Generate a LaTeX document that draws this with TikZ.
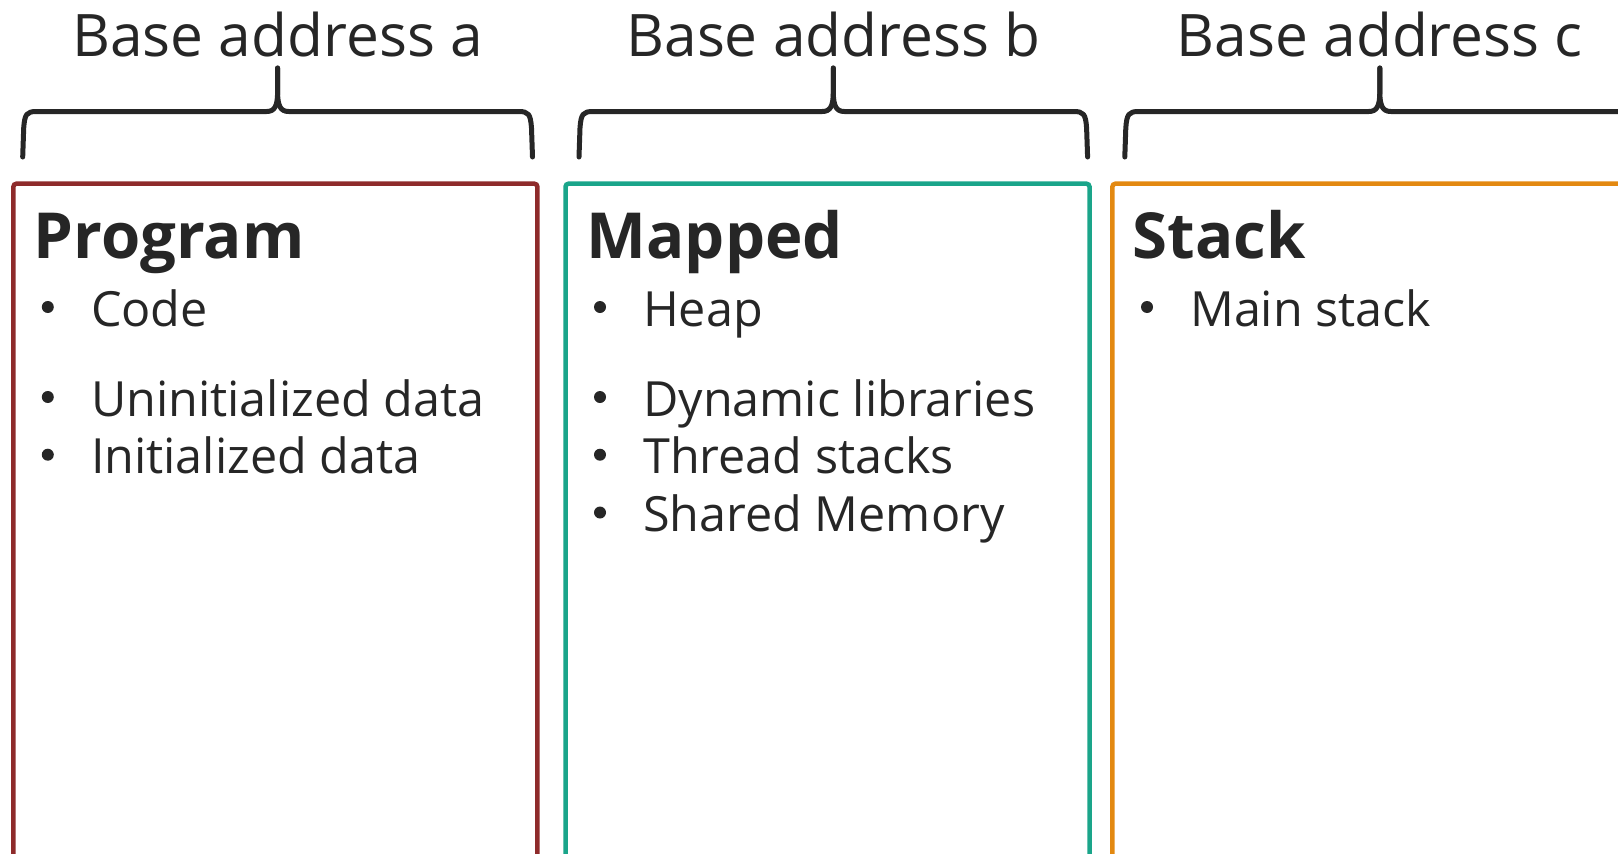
\documentclass[tikz,border=0pt]{standalone}
\usepackage{fontspec}
\setmainfont{Open Sans}
\definecolor{ink}{HTML}{262626}
\definecolor{progred}{HTML}{8E2B2B}
\definecolor{mapteal}{HTML}{1AA58A}
\definecolor{stackorange}{HTML}{E38911}

% curly brace over a region: #1 left x, #2 right x
\newcommand\RegionBrace[2]{%
  \pgfmathsetmacro\bmid{(#1+#2)/2}%
  \draw[bracepath] (\bmid,68) -- (\bmid,92)
    .. controls (\bmid,106) and (\bmid-3,111.5) .. (\bmid-11,111.5)
    -- (#1+14,111.5)
    .. controls (#1+4,111.5) and (#1+2,114) .. (#1+1,128) -- (#1,157);
  \draw[bracepath] (\bmid,68) -- (\bmid,92)
    .. controls (\bmid,106) and (\bmid+3,111.5) .. (\bmid+11,111.5)
    -- (#2-14,111.5)
    .. controls (#2-4,111.5) and (#2-2,114) .. (#2-1,128) -- (#2,157);
}
% bullet dot beside an item whose text starts at #1 on baseline #2
\newcommand\ItemDot[2]{\fill[ink] (#1-43,#2-19) circle (6pt);}

\begin{document}
\begin{tikzpicture}[x=1pt,y=-1pt,
  bracepath/.style={draw=ink, line width=5pt, line cap=round, line join=round},
  region/.style={draw, line width=4.5pt, rounded corners=3pt, fill=none,
    minimum width=524pt, minimum height=720pt, anchor=north west,
    inner sep=0pt, outer sep=0pt},
  addrlabel/.style={text=ink, font=\fontsize{58.6}{60}\selectfont, anchor=base, inner sep=0pt},
  regiontitle/.style={text=ink, font=\fontsize{63.5}{66}\selectfont\bfseries, anchor=base west, inner sep=0pt},
  itemtext/.style={text=ink, font=\fontsize{48.5}{52}\selectfont, anchor=base west, inner sep=0pt}]
\useasboundingbox (0,0) rectangle (1618,854);
\clip (0,0) rectangle (1618,854);

% address labels and braces
\node[addrlabel] (baseA) at (277.6,56.8) {Base address a};
\node[addrlabel] (baseB) at (833.3,56.8) {Base address b};
\node[addrlabel] (baseC) at (1379.8,56.8) {Base address c};
\RegionBrace{22.7}{532.5}
\RegionBrace{579}{1087.6}
\RegionBrace{1124.8}{1634.8}

% regions
\node[region, draw=progred] (prog) at (13.4,183.7) {};
\node[region, draw=mapteal] (mapped) at (565.5,183.7) {};
\node[region, draw=stackorange] (stack) at (1112.4,183.7) {};

% Program
\node[regiontitle] (progT) at (33.5,258) {Program};
\node[itemtext] (progA) at (90.8,326) {Code};
\node[itemtext] (progB) at (90.8,416) {Uninitialized data};
\node[itemtext] (progC) at (90.8,473.7) {Initialized data};
\ItemDot{90.8}{326}
\ItemDot{90.8}{416}
\ItemDot{90.8}{473.7}

% Mapped
\node[regiontitle] (mapT) at (586.5,258) {Mapped};
\node[itemtext] (mapA) at (643,326) {Heap};
\node[itemtext] (mapB) at (643,416) {Dynamic libraries};
\node[itemtext] (mapC) at (643,473.7) {Thread stacks};
\node[itemtext] (mapD) at (643,531.5) {Shared Memory};
\ItemDot{643}{326}
\ItemDot{643}{416}
\ItemDot{643}{473.7}
\ItemDot{643}{531.5}

% Stack
\node[regiontitle] (stackT) at (1132.5,258) {Stack};
\node[itemtext] (stackA) at (1190,326) {Main stack};
\ItemDot{1190}{326}
\end{tikzpicture}
\end{document}
